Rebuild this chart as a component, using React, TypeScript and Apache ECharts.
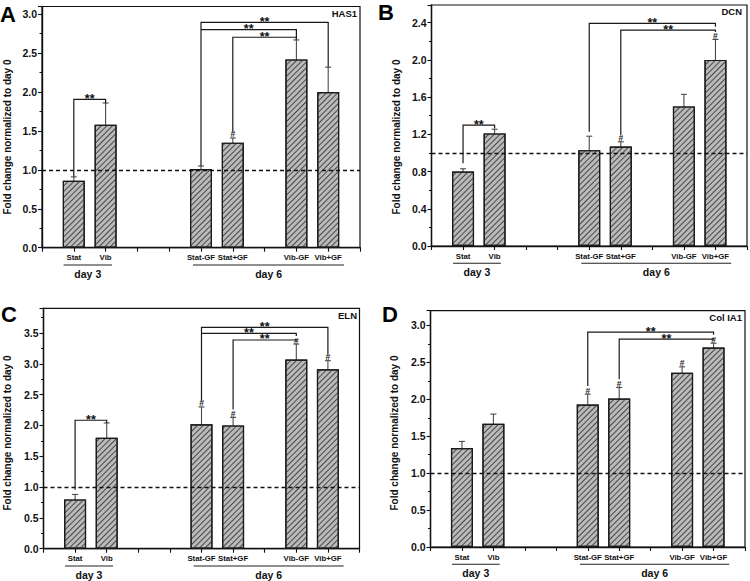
import React, { useEffect, useRef } from "react";
import * as echarts from "echarts";

const FONT = "'Liberation Sans', Arial, sans-serif";

const CATEGORIES = ["Stat", "Vib", "Stat-GF", "Stat+GF", "Vib-GF", "Vib+GF"];
const POSITIONS = [1, 2, 5, 6, 8, 9];
const GROUPS = [
  { name: "day 3", from: 0.68, to: 2.2 },
  { name: "day 6", from: 4.75, to: 9.5 },
];

const PANEL_LETTERS = ["A", "B", "C", "D"];
const GENES = ["HAS1", "DCN", "ELN", "Col IA1"];
const Y_NAME = "Fold change normalized to day 0";

const HAS1_MEAN = [0.86, 1.58, 1.01, 1.35, 2.42, 2.0];
const HAS1_ERR = [0.05, 0.28, 0.04, 0.06, 0.25, 0.32];
const DCN_MEAN = [0.8, 1.21, 1.03, 1.07, 1.5, 2.0];
const DCN_ERR = [0.03, 0.045, 0.15, 0.05, 0.13, 0.22];
const ELN_MEAN = [0.8, 1.8, 2.02, 2.0, 3.07, 2.91];
const ELN_ERR = [0.08, 0.24, 0.28, 0.13, 0.25, 0.14];
const COL_MEAN = [1.34, 1.67, 1.93, 2.01, 2.36, 2.7];
const COL_ERR = [0.09, 0.13, 0.14, 0.15, 0.08, 0.06];

// "#" markers: indices into CATEGORIES
const HAS1_HASH = [3];
const DCN_HASH = [3, 5];
const ELN_HASH = [2, 3, 4, 5];
const COL_HASH = [2, 3, 4, 5];

// brackets: [fromIdx, toIdx, topValue, leftEndValue, rightEndValue]
const HAS1_BRACKETS = [
  [0, 1, 1.907, 0.913, 1.856],
  [2, 5, 2.897, 1.05, 2.32],
  [2, 4, 2.803, 2.803, 2.675],
  [3, 4, 2.705, 1.49, 2.675],
];
const DCN_BRACKETS = [
  [0, 1, 1.3, 0.888, 1.264],
  [2, 5, 2.393, 1.228, 2.357],
  [3, 5, 2.321, 1.193, 2.3],
];
const ELN_BRACKETS = [
  [0, 1, 2.084, 0.955, 2.04],
  [2, 5, 3.592, 2.4, 3.15],
  [2, 4, 3.494, 3.494, 3.45],
  [3, 4, 3.386, 2.257, 3.37],
];
const COL_BRACKETS = [
  [2, 5, 2.91, 2.18, 2.874],
  [3, 5, 2.815, 2.273, 2.806],
];

const Y_MAX = [3.1, 2.59, 3.9, 3.2];
const Y_INTERVAL = [0.5, 0.4, 0.5, 0.5];
const X_MIN = 0;
const X_MAX = 10;

const MEANS = [HAS1_MEAN, DCN_MEAN, ELN_MEAN, COL_MEAN];
const ERRS = [HAS1_ERR, DCN_ERR, ELN_ERR, COL_ERR];
const HASHES = [HAS1_HASH, DCN_HASH, ELN_HASH, COL_HASH];
const BRACKETS = [HAS1_BRACKETS, DCN_BRACKETS, ELN_BRACKETS, COL_BRACKETS];

const GRIDS = [
  { left: 42, top: 6.5, width: 318, height: 241.2 },
  { left: 431.5, top: 5, width: 316, height: 241 },
  { left: 43.5, top: 308.3, width: 316, height: 240.4 },
  { left: 430.5, top: 310.7, width: 314.5, height: 236.3 },
];

const LETTER_POS = [
  [0, 14],
  [378, 12],
  [1, 314.5],
  [382, 314.5],
];
const GENE_POS = [
  [357, 13],
  [742, 11.5],
  [357, 315],
  [742, 317],
];
const YNAME_POS = [
  [7.5, 137],
  [396.5, 137],
  [7, 433],
  [394, 433],
];

function buildOption() {
  const grid: any[] = [];
  const xAxis: any[] = [];
  const yAxis: any[] = [];
  const series: any[] = [];
  const graphic: any[] = [];

  for (let i = 0; i < 4; i++) {
    grid.push({
      ...GRIDS[i],
      show: true,
      borderColor: "#111",
      borderWidth: 1.2,
      backgroundColor: "transparent",
    });
    xAxis.push({
      gridIndex: i,
      type: "value",
      min: X_MIN,
      max: X_MAX,
      interval: 1,
      splitLine: { show: false },
      axisLine: { show: true, onZero: false, lineStyle: { color: "#111", width: 1.4 } },
      axisTick: { show: true, length: 4, lineStyle: { color: "#111", width: 1.1 } },
      axisLabel: {
        margin: 6,
        fontSize: 7.8,
        fontWeight: "bold",
        fontFamily: FONT,
        color: "#111",
        formatter: (v: number) => {
          const k = POSITIONS.indexOf(Math.round(v));
          return k >= 0 && Math.abs(v - Math.round(v)) < 1e-6 ? CATEGORIES[k] : "";
        },
      },
    });
    const iv = Y_INTERVAL[i];
    yAxis.push({
      gridIndex: i,
      type: "value",
      min: 0,
      max: Y_MAX[i],
      interval: iv,
      splitLine: { show: false },
      axisLine: { show: true, lineStyle: { color: "#111", width: 1.4 } },
      axisTick: { show: true, length: 4, lineStyle: { color: "#111", width: 1.1 } },
      minorTick: { show: true, splitNumber: 2, length: 2.5, lineStyle: { color: "#111", width: 1 } },
      axisLabel: {
        margin: 5,
        fontSize: 10.5,
        fontWeight: "bold",
        fontFamily: FONT,
        color: "#111",
        showMaxLabel: false,
        formatter: (v: number) => {
          const r = v / iv;
          return Math.abs(r - Math.round(r)) < 1e-6 ? v.toFixed(1) : "";
        },
      },
    });

    const means = MEANS[i];
    const errs = ERRS[i];

    // bars
    series.push({
      type: "bar",
      xAxisIndex: i,
      yAxisIndex: i,
      barWidth: 22,
      silent: true,
      data: POSITIONS.map((p, k) => [p, means[k]]),
      itemStyle: {
        color: "#bababa",
        borderColor: "#1a1a1a",
        borderWidth: 1.2,
        decal: {
          symbol: "rect",
          symbolSize: 1,
          color: "#474747",
          dashArrayX: [1, 0],
          dashArrayY: [1, 2.5],
          rotation: -Math.PI / 4,
        },
      },
      markLine: {
        silent: true,
        symbol: "none",
        label: { show: false },
        lineStyle: { color: "#111", type: [4, 3], width: 1.4 },
        data: [{ yAxis: 1 }],
      },
    });

    // error bars
    series.push({
      type: "custom",
      xAxisIndex: i,
      yAxisIndex: i,
      silent: true,
      data: POSITIONS.map((p, k) => [p, means[k], errs[k]]),
      renderItem: (params: any, api: any) => {
        const x = api.value(0);
        const m = api.value(1);
        const e = api.value(2);
        const t = api.coord([x, m + e]);
        const b = api.coord([x, m - e]);
        const st = { stroke: "#4a4a4a", lineWidth: 1.1 };
        return {
          type: "group",
          children: [
            { type: "line", shape: { x1: t[0], y1: t[1], x2: b[0], y2: b[1] }, style: st },
            { type: "line", shape: { x1: t[0] - 3, y1: t[1], x2: t[0] + 3, y2: t[1] }, style: st },
            { type: "line", shape: { x1: b[0] - 3, y1: b[1], x2: b[0] + 3, y2: b[1] }, style: st },
          ],
        };
      },
    });

    // "#" markers
    series.push({
      type: "custom",
      xAxisIndex: i,
      yAxisIndex: i,
      silent: true,
      data: HASHES[i].map((k) => [POSITIONS[k], means[k] + errs[k]]),
      renderItem: (params: any, api: any) => {
        const c = api.coord([api.value(0), api.value(1)]);
        return {
          type: "text",
          x: c[0],
          y: c[1] + 1,
          style: {
            text: "#",
            fill: "#222",
            fontSize: 8.5,
            fontWeight: "bold",
            fontFamily: FONT,
            align: "center",
            verticalAlign: "bottom",
          },
        };
      },
    });

    // significance brackets
    series.push({
      type: "custom",
      xAxisIndex: i,
      yAxisIndex: i,
      silent: true,
      data: BRACKETS[i].map((b) => [POSITIONS[b[0]], POSITIONS[b[1]], b[2], b[3], b[4]]),
      renderItem: (params: any, api: any) => {
        const x1 = api.value(0);
        const x2 = api.value(1);
        const top = api.value(2);
        const le = api.value(3);
        const re = api.value(4);
        const a = api.coord([x1, le]);
        const b = api.coord([x1, top]);
        const c = api.coord([x2, top]);
        const d = api.coord([x2, re]);
        return {
          type: "group",
          children: [
            {
              type: "polyline",
              shape: { points: [a, b, c, d] },
              style: { stroke: "#1a1a1a", lineWidth: 1.2, fill: "none" },
            },
            {
              type: "text",
              x: (b[0] + c[0]) / 2,
              y: b[1] - 0.5,
              style: {
                text: "**",
                fill: "#111",
                fontSize: 12.5,
                fontWeight: "bold",
                fontFamily: FONT,
                align: "center",
                verticalAlign: "middle",
              },
            },
          ],
        };
      },
    });

    // group underlines and day labels
    series.push({
      type: "custom",
      xAxisIndex: i,
      yAxisIndex: i,
      silent: true,
      clip: false,
      data: GROUPS.map((g) => [g.from, g.to]),
      renderItem: (params: any, api: any) => {
        const a = api.coord([api.value(0), 0]);
        const b = api.coord([api.value(1), 0]);
        const y = a[1];
        return {
          type: "group",
          children: [
            {
              type: "line",
              shape: { x1: a[0], y1: y + 17.3, x2: b[0], y2: y + 17.3 },
              style: { stroke: "#222", lineWidth: 1.1 },
            },
            {
              type: "text",
              x: (a[0] + b[0]) / 2,
              y: y + 26,
              style: {
                text: GROUPS[params.dataIndex].name,
                fill: "#111",
                fontSize: 10.5,
                fontWeight: "bold",
                fontFamily: FONT,
                align: "center",
                verticalAlign: "middle",
              },
            },
          ],
        };
      },
    });

    graphic.push({
      type: "text",
      x: LETTER_POS[i][0],
      y: LETTER_POS[i][1],
      style: {
        text: PANEL_LETTERS[i],
        fill: "#000",
        fontSize: 22,
        fontWeight: "bold",
        fontFamily: FONT,
        align: "left",
        verticalAlign: "middle",
      },
    });
    graphic.push({
      type: "text",
      x: GENE_POS[i][0],
      y: GENE_POS[i][1],
      style: {
        text: GENES[i],
        fill: "#111",
        fontSize: 9.5,
        fontWeight: "bold",
        fontFamily: FONT,
        align: "right",
        verticalAlign: "middle",
      },
    });
    graphic.push({
      type: "text",
      x: YNAME_POS[i][0],
      y: YNAME_POS[i][1],
      rotation: Math.PI / 2,
      style: {
        text: Y_NAME,
        fill: "#111",
        fontSize: 10,
        fontWeight: "bold",
        fontFamily: FONT,
        align: "center",
        verticalAlign: "middle",
      },
    });
  }

  return {
    animation: false,
    backgroundColor: "#ffffff",
    grid,
    xAxis,
    yAxis,
    series,
    graphic,
  };
}

export default function App() {
  const ref = useRef<HTMLDivElement>(null);
  useEffect(() => {
    document.body.style.margin = "0";
    if (!ref.current) return;
    const chart = echarts.init(ref.current, undefined, { renderer: "svg" });
    chart.setOption(buildOption() as any);
    return () => chart.dispose();
  }, []);
  return <div ref={ref} style={{ width: 750, height: 581 }} />;
}
